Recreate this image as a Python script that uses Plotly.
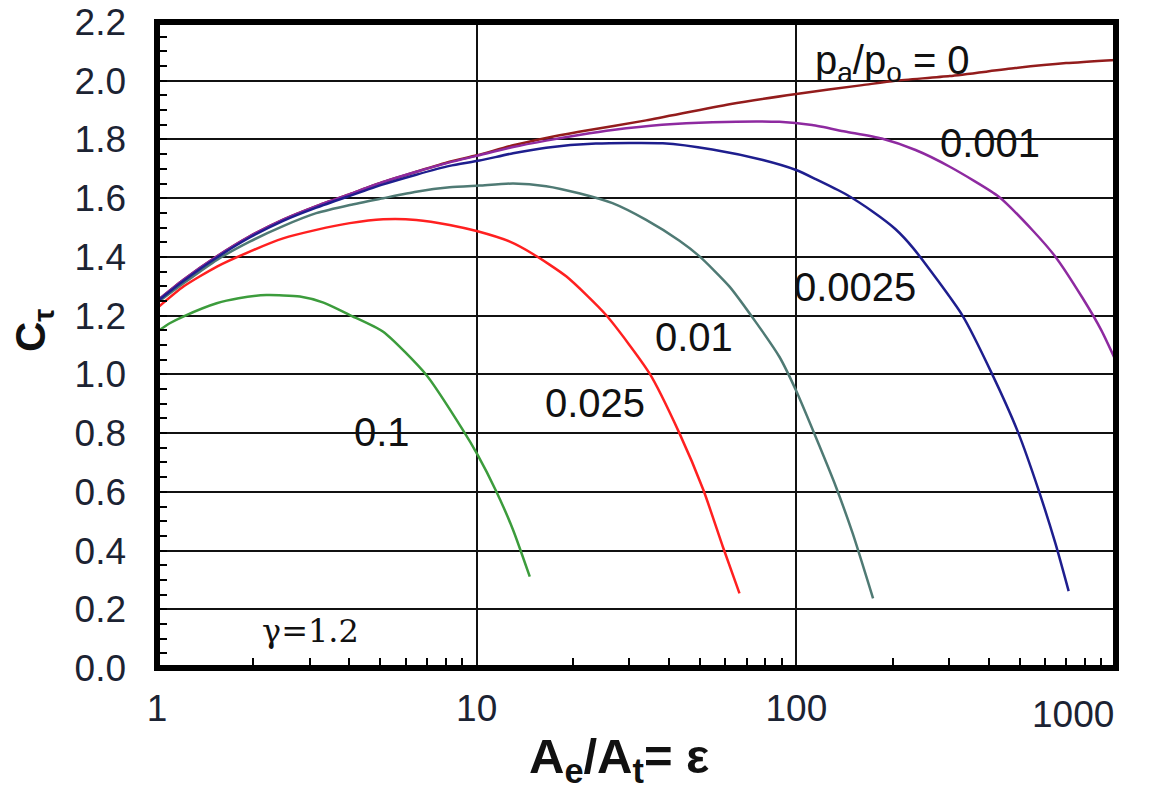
import plotly.graph_objects as go

# ---- data ----
x_p0 = [1, 1.21, 1.54, 1.95, 2.48, 3.15, 4.01, 5.1, 6.47, 8.23, 10, 13, 16.5, 20.9, 33.9, 61.8, 100, 161, 204, 302, 484, 698, 1000]
y_p0 = [1.25, 1.322, 1.402, 1.47, 1.527, 1.573, 1.614, 1.655, 1.69, 1.724, 1.746, 1.78, 1.805, 1.826, 1.865, 1.92, 1.955, 1.985, 2.0, 2.016, 2.043, 2.06, 2.071]

x_p001 = [1, 1.21, 1.54, 1.95, 2.48, 3.15, 4.01, 5.1, 6.47, 8.23, 10, 13, 16.5, 20.9, 26.6, 38, 54.6, 88.5, 112, 142, 185, 236, 302, 430, 549, 647, 786, 900, 1000]
y_p001 = [1.25, 1.322, 1.402, 1.47, 1.527, 1.573, 1.614, 1.655, 1.69, 1.722, 1.744, 1.774, 1.796, 1.815, 1.832, 1.85, 1.859, 1.86, 1.849, 1.827, 1.803, 1.764, 1.707, 1.605, 1.49, 1.40, 1.26, 1.15, 1.045]

x_p0025 = [1, 1.21, 1.54, 1.95, 2.48, 3.15, 4.01, 5.1, 6.47, 8.23, 10.2, 13, 16.5, 23.6, 38.2, 54.6, 78.6, 99.8, 115, 142, 174, 204, 232, 331, 408, 495, 573, 646, 711]
y_p0025 = [1.248, 1.318, 1.398, 1.466, 1.523, 1.568, 1.608, 1.647, 1.68, 1.71, 1.728, 1.753, 1.772, 1.786, 1.787, 1.766, 1.730, 1.696, 1.665, 1.615, 1.553, 1.495, 1.43, 1.2, 1.005, 0.8, 0.605, 0.425, 0.262]

x_p01 = [1, 1.21, 1.54, 1.95, 2.48, 3.15, 4.01, 5.1, 6.47, 8.23, 10.2, 13, 16.5, 20.9, 26.6, 33.9, 43.1, 49.9, 61.8, 74.7, 88.5, 99.8, 117.7, 132.9, 150, 173.8]
y_p01 = [1.243, 1.31, 1.39, 1.452, 1.505, 1.549, 1.577, 1.600, 1.622, 1.637, 1.643, 1.650, 1.641, 1.617, 1.583, 1.526, 1.455, 1.401, 1.299, 1.178, 1.06, 0.945, 0.76, 0.618, 0.459, 0.237]

x_p025 = [1, 1.21, 1.54, 1.95, 2.48, 3.15, 4.01, 5.1, 6.47, 8.23, 10, 12.7, 15, 19.1, 25.4, 34.7, 43.1, 51.2, 58.9, 66.4]
y_p025 = [1.225, 1.299, 1.367, 1.418, 1.463, 1.492, 1.515, 1.528, 1.526, 1.509, 1.488, 1.452, 1.41, 1.333, 1.202, 1.004, 0.799, 0.606, 0.413, 0.254]

x_p1 = [1, 1.1, 1.208, 1.537, 1.8, 2.2, 2.8, 3.3, 4.01, 5.1, 6.97, 9.05, 10.08, 11.5, 13.0, 14.66]
y_p1 = [1.145, 1.175, 1.197, 1.242, 1.259, 1.270, 1.265, 1.245, 1.202, 1.145, 0.997, 0.811, 0.725, 0.603, 0.470, 0.311]

x_tickvals = [1, 10, 100]
x_ticktext = ["1", "10", "100"]
x_minor = [2, 3, 4, 5, 6, 7, 8, 9, 20, 30, 40, 50, 60, 70, 80, 90, 200, 300, 400, 500, 600, 700, 800, 900]
y_tickvals = [0.0, 0.2, 0.4, 0.6, 0.8, 1.0, 1.2, 1.4, 1.6, 1.8, 2.0, 2.2]
y_ticktext = ["0.0", "0.2", "0.4", "0.6", "0.8", "1.0", "1.2", "1.4", "1.6", "1.8", "2.0", "2.2"]

series = [
    (x_p01, y_p01, "#4f7a74", "0.01"),
    (x_p025, y_p025, "#ff2020", "0.025"),
    (x_p1, y_p1, "#3c9c3c", "0.1"),
    (x_p0, y_p0, "#931c1c", "0"),
    (x_p001, y_p001, "#8e2aa0", "0.001"),
    (x_p0025, y_p0025, "#1e1e8e", "0.0025"),
]

fig = go.Figure()
for xs, ys, col, name in series:
    fig.add_trace(go.Scatter(x=xs, y=ys, mode="lines", name=name,
                             line=dict(color=col, width=2.5, shape="spline", smoothing=0.6),
                             showlegend=False))

tickfont = dict(family="Liberation Sans, Arial, sans-serif", size=37, color="#1c2333")
labfont = dict(family="Liberation Sans, Arial, sans-serif", size=40, color="#111111")

fig.update_layout(
    width=1159, height=793,
    margin=dict(l=149, r=51, t=14, b=133),
    paper_bgcolor="white", plot_bgcolor="white",
    xaxis=dict(type="log", range=[0, 3], tickvals=x_tickvals, ticktext=x_ticktext,
               showgrid=True, gridcolor="#111111", gridwidth=2, ticks="",
               tickfont=tickfont, ticklabelstandoff=15, zeroline=False, showline=False,
               automargin=False, ticklabeloverflow="allow",
               minor=dict(tickvals=x_minor, ticks="inside", ticklen=10, tickwidth=2,
                          tickcolor="black", showgrid=False)),
    yaxis=dict(range=[0, 2.2], tickmode="array", tickvals=y_tickvals, ticktext=y_ticktext,
               showgrid=True, gridcolor="#111111", gridwidth=2, ticks="",
               tickfont=tickfont, ticklabelstandoff=30, zeroline=False, showline=False,
               automargin=False, ticklabeloverflow="allow",
               minor=dict(dtick=0.05, tick0=0, ticks="inside", ticklen=10, tickwidth=2,
                          tickcolor="black", showgrid=False)),
    shapes=[dict(type="rect", xref="paper", yref="paper", x0=0, x1=1, y0=0, y1=1,
                 line=dict(color="black", width=6), layer="above")],
)

def ann(text, x, y, font, xanchor="center", yanchor="middle", **kw):
    fig.add_annotation(text=text, xref="paper", yref="paper", x=x, y=y,
                       xanchor=xanchor, yanchor=yanchor,
                       showarrow=False, font=font, **kw)

ann("1000", 1.0, -0.072, tickfont, xanchor="right")
ann("p<sub>a</sub>/p<sub>o</sub> = 0", 0.767, 0.937, labfont)
ann("0.001", 0.869, 0.813, labfont)
ann("0.0025", 0.728, 0.590, labfont)
ann("0.01", 0.560, 0.512, labfont)
ann("0.025", 0.457, 0.410, labfont)
ann("0.1", 0.235, 0.365, labfont)
ann("γ=1.2", 0.160, 0.058, dict(family="DejaVu Serif, serif", size=32, color="#111111"))
ann("<b>A<sub>e</sub>/A<sub>t</sub>= ε</b>", 0.482, -0.142,
    dict(family="Liberation Sans, Arial, sans-serif", size=49, color="#111111"))
ann("<b>C<sub>τ</sub></b>", -0.128, 0.522,
    dict(family="Liberation Sans, Arial, sans-serif", size=42, color="#111111"),
    textangle=-90)

fig.write_html("out.html")
